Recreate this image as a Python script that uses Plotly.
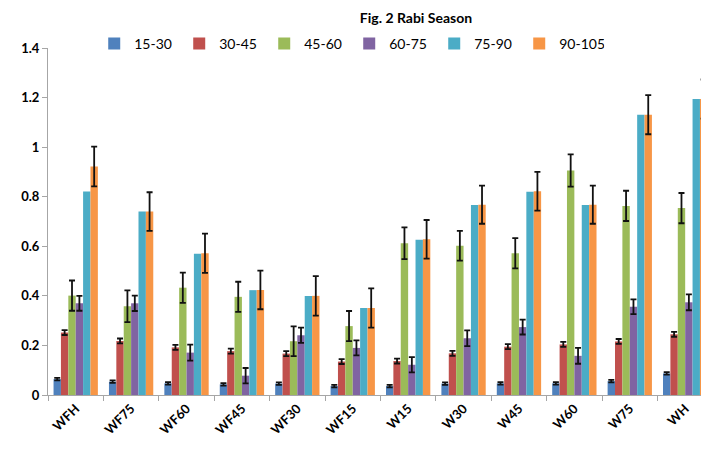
import plotly.graph_objects as go

categories = ["WFH", "WF75", "WF60", "WF45", "WF30", "WF15", "W15", "W30", "W45", "W60", "W75", "WH"]
series_names = ["15-30", "30-45", "45-60", "60-75", "75-90", "90-105"]

v_15_30 = [0.064, 0.054, 0.047, 0.043, 0.046, 0.036, 0.036, 0.046, 0.047, 0.047, 0.056, 0.087]
v_30_45 = [0.252, 0.218, 0.192, 0.177, 0.167, 0.135, 0.137, 0.168, 0.195, 0.204, 0.216, 0.245]
v_45_60 = [0.401, 0.358, 0.433, 0.396, 0.217, 0.278, 0.612, 0.602, 0.572, 0.906, 0.763, 0.754]
v_60_75 = [0.370, 0.370, 0.171, 0.078, 0.241, 0.190, 0.122, 0.229, 0.274, 0.158, 0.356, 0.374]
v_75_90 = [0.821, 0.740, 0.570, 0.423, 0.399, 0.351, 0.626, 0.767, 0.820, 0.767, 1.131, 1.194]
v_90_105 = [0.922, 0.740, 0.572, 0.424, 0.400, 0.351, 0.628, 0.768, 0.822, 0.768, 1.131, 1.194]

e_15_30 = [0.005] * 12
e_30_45 = [0.010] * 12
e_45_60 = [0.061, 0.064, 0.061, 0.061, 0.060, 0.061, 0.064, 0.060, 0.061, 0.065, 0.061, 0.061]
e_60_75 = [0.030, 0.031, 0.032, 0.031, 0.031, 0.030, 0.031, 0.032, 0.030, 0.032, 0.030, 0.032]
e_90_105 = [0.080, 0.078, 0.079, 0.078, 0.080, 0.079, 0.078, 0.077, 0.078, 0.077, 0.079, 0.079]

values = [v_15_30, v_30_45, v_45_60, v_60_75, v_75_90, v_90_105]
errors = [e_15_30, e_30_45, e_45_60, e_60_75, None, e_90_105]
colors = ["#4F81BD", "#C0504D", "#9BBB59", "#8064A2", "#4BACC6", "#F79646"]

FONT = "Lato"

fig = go.Figure()
for name, vals, err, col in zip(series_names, values, errors, colors):
    kw = {}
    if err is not None:
        kw["error_y"] = dict(type="data", array=err, visible=True, color="#111111",
                             thickness=1.8, width=3)
    fig.add_trace(go.Bar(x=categories, y=vals, name=name, marker=dict(color=col, line=dict(width=0)), **kw))

fig.update_layout(
    width=701, height=443,
    barmode="group", bargap=0.2, bargroupgap=0,
    paper_bgcolor="white", plot_bgcolor="white",
    margin=dict(l=40, r=0, t=40, b=56, autoexpand=False),
    font=dict(family=FONT, color="#000000"),
    title=dict(text="<b>Fig. 2 Rabi Season</b>", xref="container", yref="container",
               x=0.582, y=0.977, xanchor="center", yanchor="middle",
               font=dict(size=14, family=FONT)),
    legend=dict(orientation="h", xref="container", yref="container",
                x=0.123, y=0.919, xanchor="left", yanchor="middle",
                font=dict(size=14, family=FONT), bgcolor="rgba(0,0,0,0)",
                itemwidth=30, entrywidth=40, entrywidthmode="pixels"),
    xaxis=dict(type="category", range=[-0.5, 11.43], showline=True, linecolor="#A6A6A6",
               linewidth=1, ticks="outside", tickson="boundaries", ticklen=5,
               tickcolor="#A6A6A6", tickangle=-45, showgrid=False, automargin=False,
               tickfont=dict(size=13, family=FONT)),
    yaxis=dict(range=[0, 1.4], dtick=0.2, showline=True, linecolor="#A6A6A6",
               linewidth=1, ticks="outside", ticklen=5, tickcolor="#A6A6A6",
               showgrid=False, zeroline=False, automargin=False,
               tickfont=dict(size=13, family=FONT)),
)
fig.update_xaxes(tickprefix="<b>", ticksuffix="</b>")
fig.update_yaxes(tickprefix="<b>", ticksuffix="</b>")

fig.write_html("out.html")
